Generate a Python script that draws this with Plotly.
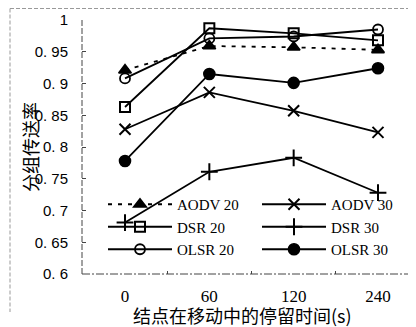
import plotly.graph_objects as go

categories = ["0", "60", "120", "240"]
aodv20 = [0.921, 0.959, 0.957, 0.953]
aodv30 = [0.828, 0.886, 0.857, 0.823]
dsr20 = [0.863, 0.987, 0.979, 0.968]
dsr30 = [0.681, 0.761, 0.783, 0.728]
olsr20 = [0.908, 0.971, 0.974, 0.985]
olsr30 = [0.778, 0.915, 0.901, 0.924]
y_ticks = [0.6, 0.65, 0.7, 0.75, 0.8, 0.85, 0.9, 0.95, 1.0]
y_ticktext = ["0. 6", "0. 65", "0. 7", "0. 75", "0. 8", "0. 85", "0. 9", "0. 95", "1"]

serif = "Liberation Serif, DejaVu Serif, serif"
sans = "Liberation Sans, Arial, sans-serif"
cjk = "Noto Sans CJK SC"

fig = go.Figure()

def add(name, y, symbol, size, dash="solid", lw=1.8, mlw=1.6):
    fig.add_trace(go.Scatter(
        x=categories, y=y, name=name, mode="lines+markers",
        line=dict(color="black", width=lw, dash=dash),
        marker=dict(symbol=symbol, size=size, color="black",
                    line=dict(color="black", width=mlw)),
    ))

add("AODV 20", aodv20, "triangle-up", 11, dash="4px,6px", lw=1.8)
add("AODV 30", aodv30, "x-thin-open", 11, mlw=2)
add("DSR 20", dsr20, "square-open", 10, mlw=2)
add("DSR 30", dsr30, "cross-thin-open", 12, mlw=2)
add("OLSR 20", olsr20, "circle-open", 10, mlw=1.8)
add("OLSR 30", olsr30, "circle", 11)

# page body has an 8px margin: work in window coordinates, convert to figure
OFF = 8
W, H = 408, 319
L, R, T, B = 74, 3, 12, 53
pw = W - L - R
ph = H - T - B

def px(xw):
    return (xw - OFF - L) / pw

def py(yw):
    return (H - B - (yw - OFF)) / ph

shapes = [
    dict(type="line", xref="paper", yref="paper", x0=px(10), x1=px(416), y0=py(8.5), y1=py(8.5),
         line=dict(color="#999", width=1, dash="4px,2px")),
    dict(type="line", xref="paper", yref="paper", x0=px(10), x1=px(10), y0=py(8.5), y1=py(312),
         line=dict(color="#999", width=1, dash="4px,2px")),
    dict(type="line", xref="paper", yref="paper", x0=0, x1=0, y0=0, y1=1,
         line=dict(color="#444", width=1, dash="6px,2px")),
    dict(type="line", xref="paper", yref="paper", x0=0, x1=1, y0=0, y1=0,
         line=dict(color="#444", width=1, dash="8px,2px,2px,2px")),
]

fig.update_layout(
    width=W, height=H,
    margin=dict(l=L, r=R, t=T, b=B, autoexpand=False),
    paper_bgcolor="white", plot_bgcolor="white",
    showlegend=True,
    legend=dict(
        orientation="h", x=px(103), y=py(188), xanchor="left", yanchor="top",
        entrywidth=75, entrywidthmode="pixels", itemwidth=64,
        font=dict(family=serif, size=15, color="black"),
        bgcolor="rgba(0,0,0,0)", tracegroupgap=0,
    ),
    xaxis=dict(
        type="category", range=[-0.51, 3.415], showgrid=False, showline=False,
        ticks="inside", ticklen=3, tickcolor="#444", tickson="boundaries",
        tickfont=dict(family=serif, size=17, color="black"),
        ticklabelstandoff=10, zeroline=False,
    ),
    yaxis=dict(
        range=[0.6, 1.0], showgrid=False, showline=False, zeroline=False,
        tickvals=y_ticks, ticktext=y_ticktext,
        ticks="inside", ticklen=4, tickcolor="#444",
        tickfont=dict(family=sans, size=15, color="black"),
        ticklabelstandoff=13,
    ),
    shapes=shapes,
    annotations=[
        dict(text="结点在移动中的停留时间(s)", xref="paper", yref="paper",
             x=px(131), y=py(315), xanchor="left", yanchor="middle", showarrow=False,
             font=dict(family=cjk, size=18, color="black")),
        dict(text="分组传送率", xref="paper", yref="paper",
             x=px(30), y=py(147), xanchor="center", yanchor="middle", showarrow=False,
             textangle=-90, font=dict(family=cjk, size=18, color="black")),
    ],
)

fig.write_html("out.html")
